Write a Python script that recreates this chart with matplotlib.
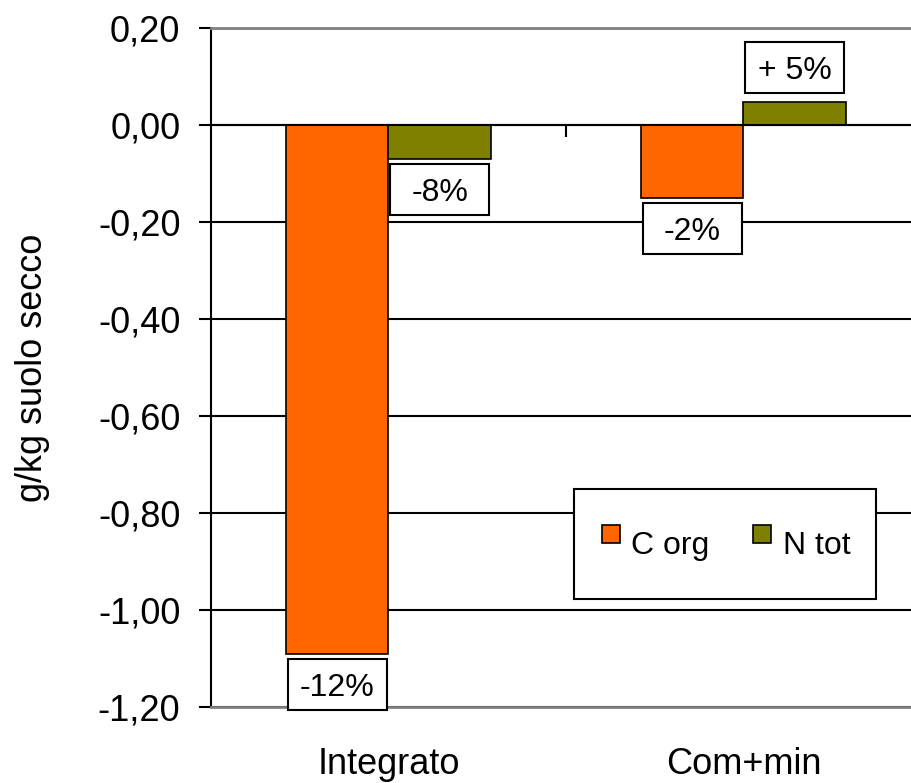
import numpy as np
import matplotlib
matplotlib.use('Agg')
import matplotlib.pyplot as plt
import matplotlib.transforms as mtransforms
from matplotlib.patches import Rectangle
from matplotlib.lines import Line2D

# dati
categorie = ['Integrato', 'Com+min']
serie = ['C org', 'N tot']
c_org = [-1.09, -0.15]
n_tot = [-0.07, 0.047]
etichette_c = ['-12%', '-2%']
etichette_n = ['-8%', '+ 5%']
colori = ['#FF6600', '#808000']
yticks = [-1.2, -1.0, -0.8, -0.6, -0.4, -0.2, 0.0, 0.2]

plt.rcParams['font.family'] = ['Liberation Sans', 'DejaVu Sans']
fs = 26       # assi
fs_lab = 23   # etichette e legenda

fig = plt.figure(figsize=(9.12, 7.83), dpi=100)
ax = fig.add_axes([211 / 912, 1 - 707 / 783, 710 / 912, 679 / 783])

x = np.arange(len(categorie)) + 0.5
w = 0.288
ax.bar(x - w / 2, c_org, w, color=colori[0], edgecolor='black', lw=1.2, zorder=2)
ax.bar(x + w / 2, n_tot, w, color=colori[1], edgecolor='black', lw=1.2, zorder=2)

ax.set_xlim(0, 2)
ax.set_ylim(-1.2, 0.2)
ax.set_yticks(yticks)
ax.set_yticklabels([f"{v + 0.0:.2f}".replace('.', ',') for v in yticks], fontsize=fs)
ax.set_xticks(x)
ax.set_xticklabels(categorie, fontsize=fs)
ax.tick_params(axis='x', length=0, pad=29)
ax.tick_params(axis='y', length=9, width=1.5, pad=13, direction='out')

ax.set_axisbelow(True)
ax.yaxis.grid(True, color='black', lw=1.5)
for s in ['top', 'bottom']:
    ax.spines[s].set_color('#808080')
    ax.spines[s].set_linewidth(2)
ax.spines['right'].set_visible(False)
ax.spines['left'].set_linewidth(1.5)

# asse delle categorie sullo zero
ax.axhline(0, color='black', lw=1.5, zorder=3)
ax.vlines([1], 0, -0.025, color='black', lw=1.5, zorder=3)

ax.set_ylabel('g/kg suolo secco', fontsize=fs)
ax.yaxis.set_label_coords(-0.227, 0.5)


def etichetta(xc, yv, txt):
    trans = fig.dpi_scale_trans + mtransforms.ScaledTranslation(xc, yv, ax.transData)
    dy = -0.31 if yv < 0 else 0.345
    ax.add_patch(Rectangle((-0.495, dy - 0.255), 0.99, 0.51, transform=trans,
                           facecolor='white', edgecolor='black', lw=1.5,
                           zorder=4, clip_on=False))
    ax.text(0, dy - 0.03, txt, transform=trans, ha='center', va='center',
            fontsize=fs_lab, zorder=5)


for i in range(len(categorie)):
    etichetta(x[i] - w / 2, c_org[i], etichette_c[i])
    etichetta(x[i] + w / 2, n_tot[i], etichette_n[i])

handles = [Line2D([], [], marker='s', ls='none', mfc=c, mec='black', ms=13, mew=1.2)
           for c in colori]
leg = ax.legend(handles, serie, loc='center', bbox_to_anchor=(725 / 912, 1 - 544 / 783),
                bbox_transform=fig.transFigure, ncol=2, frameon=True, fancybox=False,
                edgecolor='black', framealpha=1, fontsize=fs_lab, borderpad=0.8,
                handlelength=0.7, handletextpad=0.3, columnspacing=1.3, handleheight=2.5)
leg.get_frame().set_linewidth(1.5)

fig.savefig('out.png', dpi=100)
